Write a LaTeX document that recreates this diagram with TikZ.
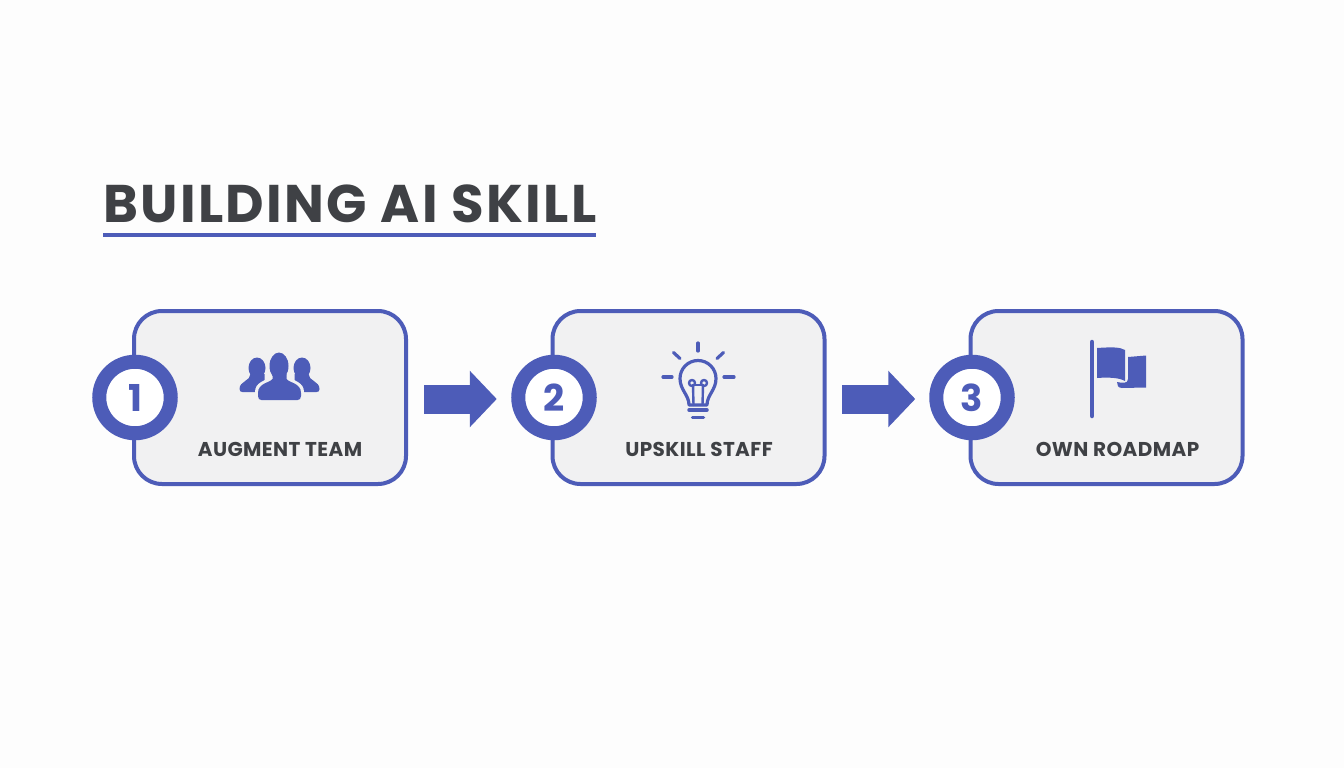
\documentclass[tikz,border=0pt]{standalone}
\usepackage{fontspec}
\setmainfont{Poppins}
\newfontfamily\titlefont[LetterSpace=4.4]{Poppins}
\newfontfamily\capfont[LetterSpace=2.1]{Poppins}
\usetikzlibrary{arrows.meta}
\definecolor{ink}{HTML}{3F4145}
\definecolor{brand}{HTML}{4D5CB8}
\definecolor{panel}{HTML}{F1F1F2}
\definecolor{paper}{HTML}{FDFDFD}
\tikzset{
  panelbox/.style={draw=brand,line width=4pt,fill=panel,rounded corners=28pt,minimum width=272pt,minimum height=173pt,inner sep=0pt},
  badge/.style={circle,draw=brand,line width=14pt,fill=white,minimum size=71.5pt,inner sep=0pt,text=brand,font=\fontsize{37}{37}\selectfont\bfseries},
  caption/.style={text=ink,font=\capfont\fontsize{20}{20}\selectfont\bfseries,inner sep=0pt,anchor=base},
  blockarrow/.style={draw=brand,line width=29pt,-{Triangle[length=27pt,width=55pt]}},
  iconline/.style={draw=brand,line width=3.2pt,line cap=round,line join=round,fill=none},
  thinline/.style={iconline,line width=2.4pt},
}
\begin{document}
\begin{tikzpicture}[x=1pt,y=-1pt]
\useasboundingbox (0,0) rectangle (1344,768);
\fill[paper] (0,0) rectangle (1344,768);
% title
\node[anchor=base west,inner sep=0pt,text=ink,font=\titlefont\fontsize{53}{53}\selectfont\bfseries] (title) at (103,222) {BUILDING AI SKILL};
\fill[brand] (103,232.5) rectangle (596,237);
% panels
\node[panelbox] (p1) at (270,397.5) {};
\node[panelbox] (p2) at (688.5,397.5) {};
\node[panelbox] (p3) at (1106.5,397.5) {};
\node[badge] (b1) at (135,397.5) {1};
\node[badge] (b2) at (554,397.5) {2};
\node[badge] (b3) at (972,397.5) {3};
\node[caption] (c1) at (280,456.5) {AUGMENT TEAM};
\node[caption] (c2) at (699,456.5) {UPSKILL STAFF};
\node[caption] (c3) at (1117.5,456.5) {OWN ROADMAP};
% connectors
\draw[blockarrow,shorten <=16pt,shorten >=14.5pt] ([yshift=-1.5pt]p1.east) -- ([yshift=-1.5pt]b2.west);
\draw[blockarrow,shorten <=15.5pt,shorten >=14pt] ([yshift=-1.5pt]p2.east) -- ([yshift=-1.5pt]b3.west);
% people icon
\begin{scope}[shift={(279.5,378)}]
  \foreach \s in {-1,1}{
    \begin{scope}[xscale=\s]
      \fill[brand] (22.5,-10) ellipse (8.5pt and 10.5pt);
      \fill[brand] (15,-4) -- (29,-4) .. controls (29,3) and (40,3) .. (40,11) .. controls (40,13) and (39,14) .. (37,14) -- (15,14) -- cycle;
    \end{scope}
  }
  \fill[panel] (-0.5,-12) ellipse (12pt and 16pt);
  \fill[panel] (-10,-4) -- (10,-4) -- (10,-1) .. controls (14,3) and (24.5,4) .. (24.5,14) -- (24.5,25) -- (-24.5,25) -- (-24.5,14) .. controls (-24.5,4) and (-14,3) .. (-10,-1) -- cycle;
  \fill[brand] (-0.5,-12) ellipse (9.5pt and 13.5pt);
  \fill[brand] (-7,-4) -- (7,-4) -- (7,1) .. controls (10,5) and (21.5,5) .. (21.5,15) -- (21.5,18) .. controls (21.5,21) and (20,22) .. (18,22) -- (-18,22) .. controls (-20,22) and (-21.5,21) .. (-21.5,18) -- (-21.5,15) .. controls (-21.5,5) and (-10,5) .. (-7,1) -- cycle;
\end{scope}
% bulb icon
\begin{scope}[shift={(698,378)}]
  \draw[iconline] (-35,-1) -- (-26,-1);
  \draw[iconline] (26,-1) -- (36,-1);
  \draw[iconline] (0,-35) -- (0,-27);
  \draw[iconline] (-24.5,-25.5) -- (-18,-19.5);
  \draw[iconline] (25.5,-25.5) -- (19,-19.5);
  \draw[iconline] (-9,27) .. controls (-9,17) and (-18,12) .. (-18,0.5) arc[start angle=180,end angle=360,radius=18] .. controls (18,12) and (9,17) .. (9,27) -- cycle;
  \draw[thinline] (-4.5,27) -- (-5,7);
  \draw[thinline] (4.5,27) -- (5,7);
  \draw[thinline] (-5,7) -- (5,7);
  \draw[thinline] (-6,5) circle (3pt);
  \draw[thinline] (6,5) circle (3pt);
  \draw[iconline,line width=3.5pt] (-9,32) -- (9,32);
  \draw[iconline,line width=3.5pt] (-5.5,39.5) -- (5.5,39.5);
\end{scope}
% flag icon
\begin{scope}[shift={(1092,340)}]
  \draw[iconline,line width=4.5pt] (0,2) -- (0,76);
  \fill[brand] (5,8) .. controls (20,7) and (28,7) .. (33,10) -- (33,41) .. controls (28,38) and (18,37) .. (5,38) -- cycle;
  \fill[brand] (36,17) -- (54,15.5) -- (54,47.5) -- (30,48) .. controls (26,48) and (25,45) .. (25,42) .. controls (30,43) and (36,44) .. (36,39) -- cycle;
\end{scope}
\end{tikzpicture}
\end{document}
